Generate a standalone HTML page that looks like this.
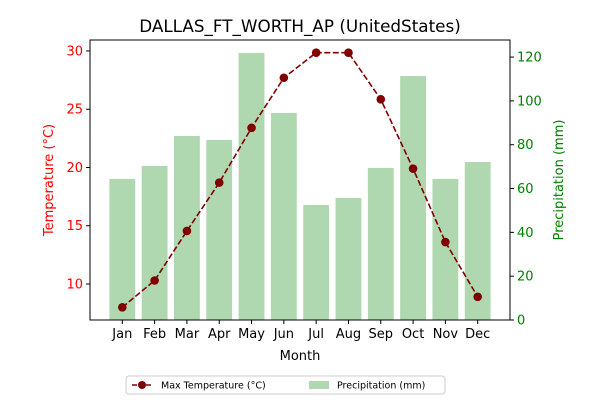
<!DOCTYPE html>
<html><head><meta charset="utf-8"><style>
body{margin:0;background:#fff;font-family:"Liberation Sans","DejaVu Sans",sans-serif;}
</style></head><body>
<svg width="600" height="400" xmlns="http://www.w3.org/2000/svg" font-family="DejaVu Sans, Liberation Sans, sans-serif">
<rect width="600" height="400" fill="#fff"/>
<g id="bars"></g><g id="line"></g><g id="axes"></g>
</svg>
<script>
const months=["Jan","Feb","Mar","Apr","May","Jun","Jul","Aug","Sep","Oct","Nov","Dec"];
const maxTemp=[8.0,10.3,14.55,18.7,23.4,27.7,29.85,29.85,25.85,19.9,13.6,8.9];
const precip=[64.4,70.3,84,82.2,121.9,94.5,52.5,55.7,69.4,111.4,64.4,72.1];
const leftTicks=[10,15,20,25,30];
const rightTicks=[0,20,40,60,80,100,120];
const L=90,R=510,T=40,B=320;
const NS="http://www.w3.org/2000/svg";
const xs=i=>L+(i+1)*(R-L)/13;
const yL=v=>B-(v-6.91)/(30.94-6.91)*(B-T);
const yR=v=>B-v/127.8*(B-T);
function mk(tag,attrs,parent,text){const e=document.createElementNS(NS,tag);for(const k in attrs)e.setAttribute(k,attrs[k]);if(text!==undefined)e.textContent=text;document.getElementById(parent).appendChild(e);return e;}
const bw=(R-L)/13*0.8;
precip.forEach((p,i)=>{const e=mk("rect",{x:xs(i)-bw/2,y:yR(p),width:bw,height:B-yR(p),fill:"#b0d8b0"},"bars");

});
const pl=mk("polyline",{points:maxTemp.map((t,i)=>xs(i)+","+yL(t)).join(" "),fill:"none",stroke:"#800000","stroke-width":1.6,"stroke-dasharray":"6,2.5"},"line");


maxTemp.forEach((t,i)=>{const c=mk("circle",{cx:xs(i),cy:yL(t),r:4.3,fill:"#800000"},"line");

});
const f=mk("rect",{x:L,y:T,width:R-L,height:B-T,fill:"none",stroke:"#000","stroke-width":1},"axes");

months.forEach((m,i)=>{mk("line",{x1:xs(i),x2:xs(i),y1:B,y2:B+4,stroke:"#000"},"axes");
const t=mk("text",{x:xs(i),y:B+18,"text-anchor":"middle","font-size":13},"axes",m);
});
leftTicks.forEach(v=>{mk("line",{x1:L-4,x2:L,y1:yL(v),y2:yL(v),stroke:"#000"},"axes");
const t=mk("text",{x:L-7,y:yL(v)+4.5,"text-anchor":"end","font-size":13,fill:"red"},"axes",v);
});
rightTicks.forEach(v=>{mk("line",{x1:R,x2:R+4,y1:yR(v),y2:yR(v),stroke:"#000"},"axes");
const t=mk("text",{x:R+7,y:yR(v)+4.5,"font-size":13,fill:"green"},"axes",v);
});
let e;
e=mk("text",{x:300,y:32,"text-anchor":"middle","font-size":16.8},"axes","DALLAS_FT_WORTH_AP (UnitedStates)");

e=mk("text",{x:300,y:360,"text-anchor":"middle","font-size":13},"axes","Month");

e=mk("text",{x:0,y:0,"text-anchor":"middle","font-size":13,fill:"red",transform:"translate(53,180) rotate(-90)"},"axes","Temperature (°C)");

e=mk("text",{x:0,y:0,"text-anchor":"middle","font-size":13,fill:"green",transform:"translate(563,180) rotate(-90)"},"axes","Precipitation (mm)");

e=mk("rect",{x:126,y:376,width:319,height:18,rx:3,fill:"#fff",stroke:"#ccc"},"axes");

mk("line",{x1:132,x2:152,y1:385,y2:385,stroke:"#800000","stroke-width":1.6,"stroke-dasharray":"5,2"},"axes");
mk("circle",{cx:142,cy:385,r:4,fill:"#800000"},"axes");
e=mk("text",{x:161,y:388.5,"font-size":9.5},"axes","Max Temperature (°C)");

mk("rect",{x:309,y:381,width:20,height:8,fill:"#b0d8b0"},"axes");
e=mk("text",{x:337,y:388.5,"font-size":9.5},"axes","Precipitation (mm)");

</script>
</body></html>
